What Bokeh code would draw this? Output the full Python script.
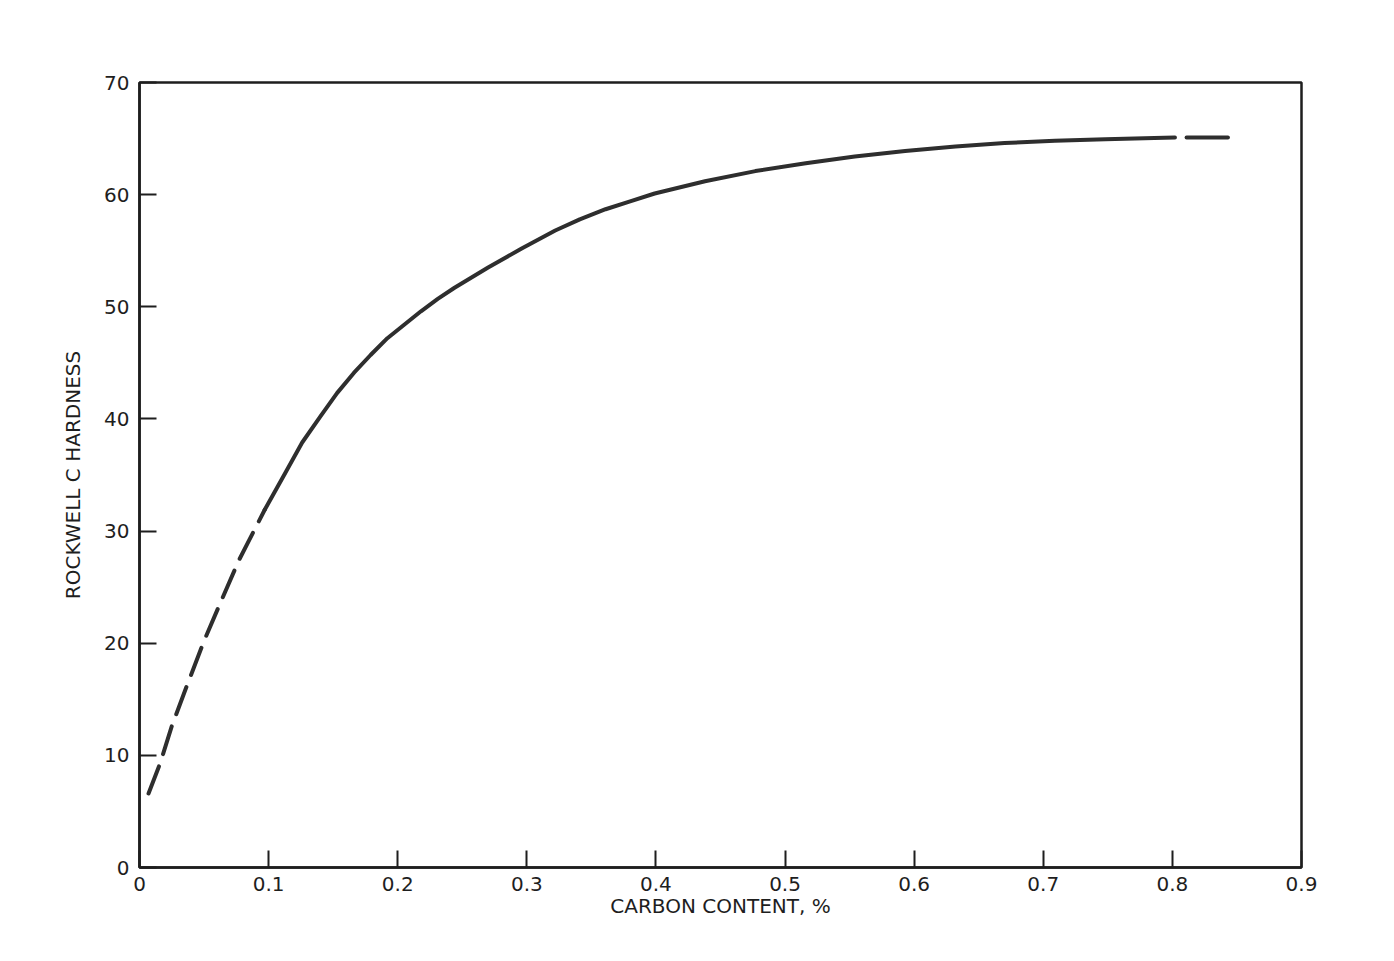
from bokeh.plotting import figure
from bokeh.models import FixedTicker
from bokeh.embed import file_html
from bokeh.resources import INLINE

# ---- data ----
x_ticks = [0, 0.1, 0.2, 0.3, 0.4, 0.5, 0.6, 0.7, 0.8, 0.9]
x_tick_labels = ["0", "0.1", "0.2", "0.3", "0.4", "0.5", "0.6", "0.7", "0.8", "0.9"]
y_ticks = [0, 10, 20, 30, 40, 50, 60, 70]
y_tick_labels = ["0", "10", "20", "30", "40", "50", "60", "70"]

# low-carbon part (dashed)
carbon_low = [0.007, 0.016, 0.025, 0.037, 0.050, 0.063, 0.077, 0.093, 0.097]
hardness_low = [6.6, 9.3, 12.6, 16.3, 20.2, 23.7, 27.4, 31.0, 31.9]

# main part (solid)
carbon_main = [0.097, 0.113, 0.126, 0.140, 0.153, 0.166, 0.179, 0.192,
               0.205, 0.218, 0.231, 0.244, 0.270, 0.296, 0.322, 0.341,
               0.361, 0.380, 0.399, 0.438, 0.477, 0.516, 0.554, 0.593,
               0.632, 0.670, 0.709, 0.748, 0.786, 0.802]
hardness_main = [31.9, 35.2, 37.9, 40.2, 42.3, 44.1, 45.7, 47.2,
                 48.4, 49.6, 50.7, 51.7, 53.5, 55.2, 56.8, 57.8,
                 58.7, 59.4, 60.1, 61.2, 62.1, 62.8, 63.4, 63.9,
                 64.3, 64.6, 64.8, 64.95, 65.05, 65.1]

# high-carbon tail (dashed)
carbon_tail = [0.811, 0.843]
hardness_tail = [65.1, 65.1]

x_label = "CARBON CONTENT, %"
y_label = "ROCKWELL C HARDNESS"

FONT = "DejaVu Sans"
INK = "#1e1e1e"
CURVE = "#2e2e2e"

p = figure(width=1345, height=947, x_range=(0, 0.9), y_range=(0, 70),
           output_backend="svg", toolbar_location=None,
           min_border_left=139, min_border_top=82, min_border_right=44,
           min_border_bottom=80)
p.background_fill_color = "white"
p.border_fill_color = "white"
p.xgrid.visible = False
p.ygrid.visible = False
p.outline_line_color = INK
p.outline_line_width = 2.5

for ax, ticks, labels in ((p.xaxis[0], x_ticks, x_tick_labels),
                          (p.yaxis[0], y_ticks, y_tick_labels)):
    ax.ticker = FixedTicker(ticks=ticks)
    ax.major_label_overrides = {t: l for t, l in zip(ticks, labels)}
    ax.minor_tick_line_color = None
    ax.major_tick_out = 0
    ax.major_tick_in = 17
    ax.major_tick_line_width = 2
    ax.major_tick_line_color = INK
    ax.axis_line_width = 2.5
    ax.axis_line_color = INK
    ax.major_label_text_font = FONT
    ax.major_label_text_font_size = "20px"
    ax.major_label_text_color = INK
    ax.axis_label_text_font = FONT
    ax.axis_label_text_font_size = "20px"
    ax.axis_label_text_font_style = "normal"
    ax.axis_label_text_color = INK

p.xaxis.axis_label = x_label
p.yaxis.axis_label = y_label
p.xaxis.major_label_standoff = 9
p.xaxis.axis_label_standoff = 0
p.yaxis.major_label_standoff = 10
p.yaxis.axis_label_standoff = 16

p.line(carbon_low, hardness_low, line_color=CURVE, line_width=4,
       line_dash="29 13", line_cap="round")
p.line(carbon_main, hardness_main, line_color=CURVE, line_width=4,
       line_cap="round", line_join="round")
p.line(carbon_tail, hardness_tail, line_color=CURVE, line_width=4,
       line_cap="round")

open("out.html", "w").write(file_html(p, INLINE))
